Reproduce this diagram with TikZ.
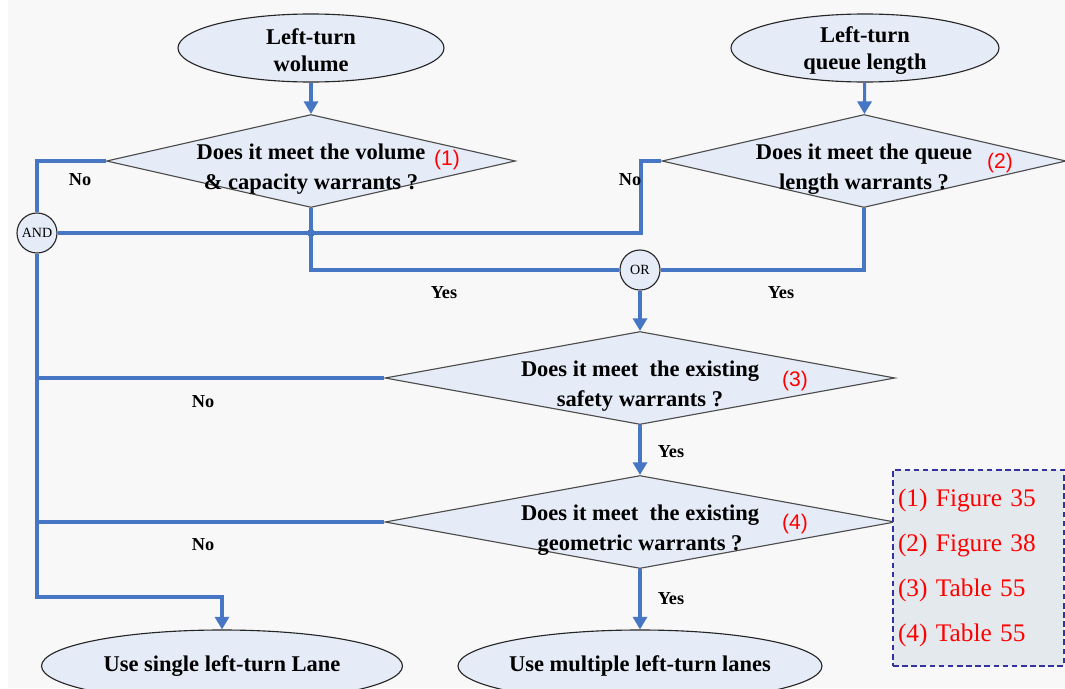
\documentclass[tikz,border=0pt]{standalone}
\usepackage{fontspec}
\setmainfont{Liberation Serif}
\newfontfamily\annofont{Liberation Sans}
\usetikzlibrary{shapes.geometric,arrows.meta,positioning}

\definecolor{flowblue}{RGB}{71,118,196}
\definecolor{shapefill}{RGB}{230,236,247}
\definecolor{notefill}{RGB}{228,233,238}
\definecolor{notedash}{RGB}{50,50,160}
\definecolor{paper}{RGB}{248,248,248}

\begin{document}
\begin{tikzpicture}[x=0.25mm,y=-0.25mm,
  flow/.style={draw=flowblue, line width=2.2pt},
  arr/.style={flow, -{Triangle[length=9pt,width=10pt]}},
  term/.style={ellipse, draw=black!85, line width=0.8pt, fill=shapefill, inner sep=0pt},
  test/.style={diamond, draw=black!70, line width=0.8pt, fill=shapefill, inner sep=0pt},
  gate/.style={circle, draw=black!85, line width=0.8pt, fill=shapefill, minimum size=10mm, inner sep=0pt, font=\fontsize{10}{11}\selectfont},
  txt/.style={font=\fontsize{16}{21}\selectfont\bfseries, align=center},
  lbl/.style={font=\fontsize{13}{14}\selectfont\bfseries},
  ref/.style={text=red, font=\annofont\fontsize{15}{16}\selectfont}]
\useasboundingbox (0,0) rectangle (1065,688);
\fill[paper] (8,0) rectangle (1065,688);

% start and end terminals
\node[term, minimum width=66.5mm, minimum height=17mm] (e1) at (311,48) {};
\node[txt, font=\fontsize{16}{19}\selectfont\bfseries, yshift=-0.6mm] (e1t) at (e1) {Left-turn\\wolume};
\node[term, minimum width=67mm, minimum height=17mm] (e2) at (865,48) {};
\node[txt, font=\fontsize{16}{19}\selectfont\bfseries, yshift=-0.6mm] (e2t) at (e2) {Left-turn\\queue length};
\node[term, minimum width=90.25mm, minimum height=18mm] (e3) at (222,666) {};
\node[txt] (e3t) at (e3) {Use single left-turn Lane};
\node[term, minimum width=91mm, minimum height=18mm] (e4) at (640,666) {};
\node[txt] (e4t) at (e4) {Use multiple left-turn lanes};

% the four warrant checks
\node[test, minimum width=102.25mm, minimum height=23.25mm] (d1) at (311,161) {};
\node[txt, yshift=-2mm] (d1t) at (d1) {Does it meet the volume\\\& capacity warrants ?};
\node[test, minimum width=101mm, minimum height=23.25mm] (d2) at (864,161) {};
\node[txt, yshift=-2mm] (d2t) at (d2) {Does it meet the queue\\length warrants ?};
\node[test, minimum width=127.5mm, minimum height=23.25mm] (d3) at (640,378) {};
\node[txt, yshift=-2mm] (d3t) at (d3) {Does it meet\ \ the existing\\safety warrants ?};
\node[test, minimum width=127.5mm, minimum height=23.25mm] (d4) at (640,522) {};
\node[txt, yshift=-2mm] (d4t) at (d4) {Does it meet\ \ the existing\\geometric warrants ?};

\node[ref] (r1) at (447,160) {(1)};
\node[ref] (r2) at (1000,163) {(2)};
\node[ref] (r3) at (795,381) {(3)};
\node[ref] (r4) at (795,524) {(4)};

\node[gate] (and) at (37,233) {AND};
\node[gate] (or) at (640,270) {OR};

\coordinate (k1) at (641,233);
\coordinate (k2) at (222,597);

% connectors
\draw[arr] (e1) -- (d1);
\draw[arr] (e2) -- (d2);
\draw[flow] (d1.west) -| (and.north);
\draw[flow] (and.east) -- (k1) |- (d2.west);
\draw[flow] (d1.south) |- (or.west);
\draw[flow] (d2.south) |- (or.east);
\fill[flowblue] (d1.south |- k1) circle (4);
\draw[arr] (or) -- (d3);
\draw[flow] (d3.west) -- (d3.west -| and);
\draw[arr] (d3) -- (d4);
\draw[flow] (d4.west) -- (d4.west -| and);
\draw[arr] (and.south) |- (k2) -- (e3.north);
\draw[arr] (d4) -- (e4);

\node[lbl] (n1) at (80,180) {No};
\node[lbl] (n2) at (630,180) {No};
\node[lbl] (n3) at (203,402) {No};
\node[lbl] (n4) at (203,545) {No};
\node[lbl] (y1) at (444,293) {Yes};
\node[lbl] (y2) at (781,293) {Yes};
\node[lbl] (y3) at (671,452) {Yes};
\node[lbl] (y4) at (671,599) {Yes};

% key to the figures and tables
\node[draw=notedash, dashed, dash pattern=on 4pt off 2.5pt, line width=1.1pt, fill=notefill,
  minimum width=42.75mm, minimum height=49mm, text width=40.25mm, inner xsep=1.25mm,
  align=left, text=red, font=\fontsize{18}{32}\selectfont] (key) at (978.5,568)
  {(1) Figure 35\\(2) Figure 38\\(3) Table 55\\(4) Table 55};
\end{tikzpicture}
\end{document}
